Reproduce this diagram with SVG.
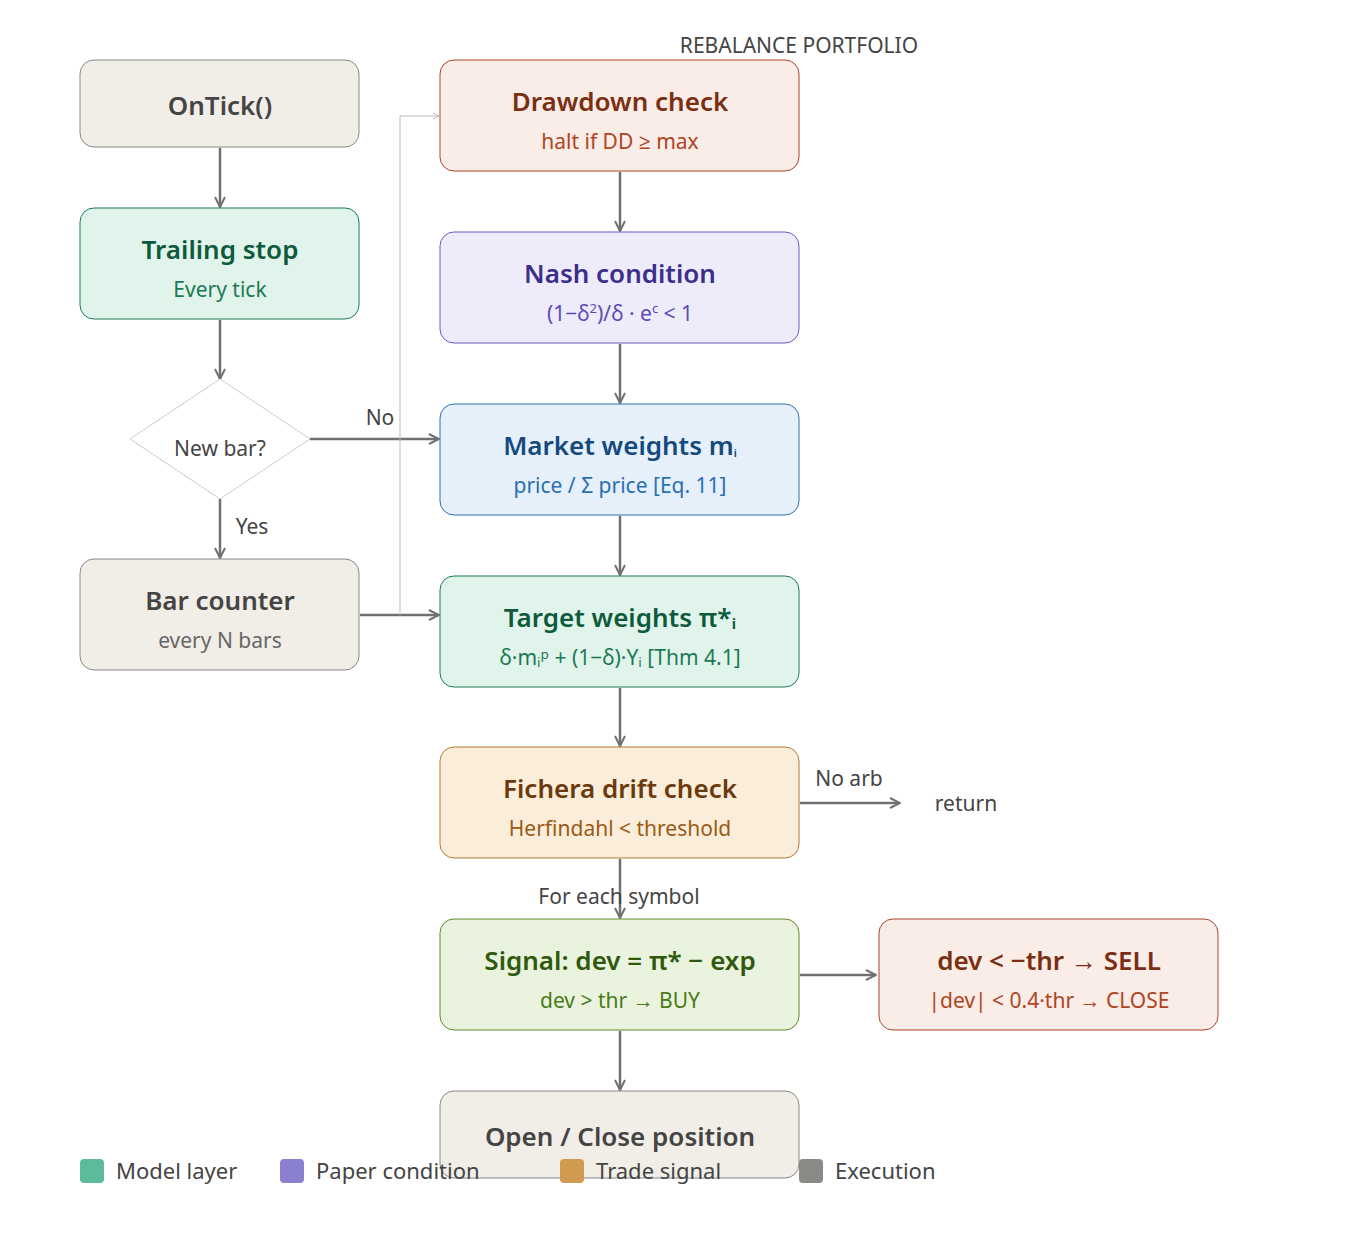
<svg xmlns="http://www.w3.org/2000/svg" width="1358" height="1238" viewBox="0 0 1358 1238">
<defs>
<marker id="a" viewBox="0 0 12 12" refX="11" refY="6" markerWidth="12" markerHeight="12" markerUnits="userSpaceOnUse" orient="auto"><path d="M1,1 L11,6 L1,11" fill="none" stroke="#707070" stroke-width="2"/></marker>
<marker id="b" viewBox="0 0 8 8" refX="7" refY="4" markerWidth="8" markerHeight="8" markerUnits="userSpaceOnUse" orient="auto"><path d="M1,1 L7,4 L1,7" fill="none" stroke="#bbb" stroke-width="1"/></marker>
</defs>
<style>
text{font-family:"Noto Sans","Open Sans",sans-serif;text-anchor:middle}
.t{font-size:26px;font-weight:600}
.s{font-size:21px}
.l{font-size:21px;fill:#444}
.c{fill:none;stroke:#707070;stroke-width:2.5}
</style>
<rect width="1358" height="1238" fill="#fff"/>
<g id="connectors">
<path class="c" d="M220,148 V207" marker-end="url(#a)"/>
<path class="c" d="M220,320 V379" marker-end="url(#a)"/>
<path class="c" d="M220,499 V558" marker-end="url(#a)"/>
<path class="c" d="M310,439 H439" marker-end="url(#a)"/>
<path class="c" d="M360,615 H439" marker-end="url(#a)"/>
<path d="M400,615 V116 H439" fill="none" stroke="#bbb" stroke-width="1" marker-end="url(#b)"/>
<path class="c" d="M620,172 V231" marker-end="url(#a)"/>
<path class="c" d="M620,344 V403" marker-end="url(#a)"/>
<path class="c" d="M620,516 V575" marker-end="url(#a)"/>
<path class="c" d="M620,688 V746" marker-end="url(#a)"/>
<path class="c" d="M800,803 H900" marker-end="url(#a)"/>
<path class="c" d="M620,859 V918" marker-end="url(#a)"/>
<path class="c" d="M800,975 H876" marker-end="url(#a)"/>
<path class="c" d="M620,1031 V1090" marker-end="url(#a)"/>
<text class="l" x="380" y="425">No</text>
<text class="l" x="252" y="534">Yes</text>
<text class="l" x="849" y="786">No arb</text>
<text class="l" x="966" y="811">return</text>
<text class="l" x="619" y="904">For each symbol</text>
<text class="l" x="799" y="53">REBALANCE PORTFOLIO</text>
</g>
<g id="ontick"><rect x="80" y="60" width="279" height="87" rx="14" fill="#f1eee8" stroke="#888"/><text class="t" x="220" y="115" fill="#444">OnTick()</text></g>
<g id="trailing"><rect x="80" y="208" width="279" height="111" rx="14" fill="#e1f4ec" stroke="#1b7a55"/><text class="t" x="220" y="259" fill="#0d5a3c">Trailing stop</text><text class="s" x="220" y="297" fill="#1b7a55">Every tick</text></g>
<g id="newbar"><polygon points="220,379 310,439 220,499 130,439" fill="#fff" stroke="#ccc"/><text class="s" x="220" y="456" fill="#444">New bar?</text></g>
<g id="barcounter"><rect x="80" y="559" width="279" height="111" rx="14" fill="#f1eee8" stroke="#888"/><text class="t" x="220" y="610" fill="#444">Bar counter</text><text class="s" x="220" y="648" fill="#666">every N bars</text></g>
<g id="drawdown"><rect x="440" y="60" width="359" height="111" rx="14" fill="#faece6" stroke="#a9442a"/><text class="t" x="620" y="111" fill="#7a2e12">Drawdown check</text><text class="s" x="620" y="149" fill="#b0441f">halt if DD ≥ max</text></g>
<g id="nash"><rect x="440" y="232" width="359" height="111" rx="14" fill="#eeecfb" stroke="#6a5bc4"/><text class="t" x="620" y="283" fill="#3b2f8a">Nash condition</text><text class="s" x="620" y="321" fill="#5a4bb8">(1−δ<tspan dy="-8" font-size="13">2</tspan><tspan dy="8">)/δ · e</tspan><tspan dy="-8" font-size="13">c</tspan><tspan dy="8"> &lt; 1</tspan></text></g>
<g id="market"><rect x="440" y="404" width="359" height="111" rx="14" fill="#e5f0fb" stroke="#2a6fb0"/><text class="t" x="620" y="455" fill="#154a7e">Market weights m<tspan font-size="17">ᵢ</tspan></text><text class="s" x="620" y="493" fill="#2a6fb0">price / Σ price [Eq. 11]</text></g>
<g id="target"><rect x="440" y="576" width="359" height="111" rx="14" fill="#e1f4ec" stroke="#1b7a55"/><text class="t" x="620" y="627" fill="#0d5a3c">Target weights π*ᵢ</text><text class="s" x="620" y="665" fill="#1b7a55">δ·mᵢᵖ + (1−δ)·Yᵢ [Thm 4.1]</text></g>
<g id="fichera"><rect x="440" y="747" width="359" height="111" rx="14" fill="#faedda" stroke="#b07a35"/><text class="t" x="620" y="798" fill="#6b3a0c">Fichera drift check</text><text class="s" x="620" y="836" fill="#9a5a16">Herfindahl &lt; threshold</text></g>
<g id="signal"><rect x="440" y="919" width="359" height="111" rx="14" fill="#eaf3dd" stroke="#5a8a2a"/><text class="t" x="620" y="970" fill="#2f5a0e">Signal: dev = π* − exp</text><text class="s" x="620" y="1008" fill="#4a7a1a">dev &gt; thr → BUY</text></g>
<g id="sell"><rect x="879" y="919" width="339" height="111" rx="14" fill="#faece6" stroke="#a9442a"/><text class="t" x="1049" y="970" fill="#7a2e12">dev &lt; −thr → SELL</text><text class="s" x="1049" y="1008" fill="#b0441f">|dev| &lt; 0.4·thr → CLOSE</text></g>
<g id="open"><rect x="440" y="1091" width="359" height="87" rx="14" fill="#f1eee8" stroke="#888"/><text class="t" x="620" y="1146" fill="#444">Open / Close position</text></g>
<g id="legend" font-size="22">
<rect x="80" y="1159" width="24" height="24" rx="4" fill="#5dbb9a"/><text class="l" x="116" y="1179" style="text-anchor:start;font-size:22px">Model layer</text>
<rect x="280" y="1159" width="24" height="24" rx="4" fill="#8a80d0"/><text class="l" x="316" y="1179" style="text-anchor:start;font-size:22px">Paper condition</text>
<rect x="560" y="1159" width="24" height="24" rx="4" fill="#d09a50"/><text class="l" x="596" y="1179" style="text-anchor:start;font-size:22px">Trade signal</text>
<rect x="799" y="1159" width="24" height="24" rx="4" fill="#8a8a86"/><text class="l" x="835" y="1179" style="text-anchor:start;font-size:22px">Execution</text>
</g>
</svg>
